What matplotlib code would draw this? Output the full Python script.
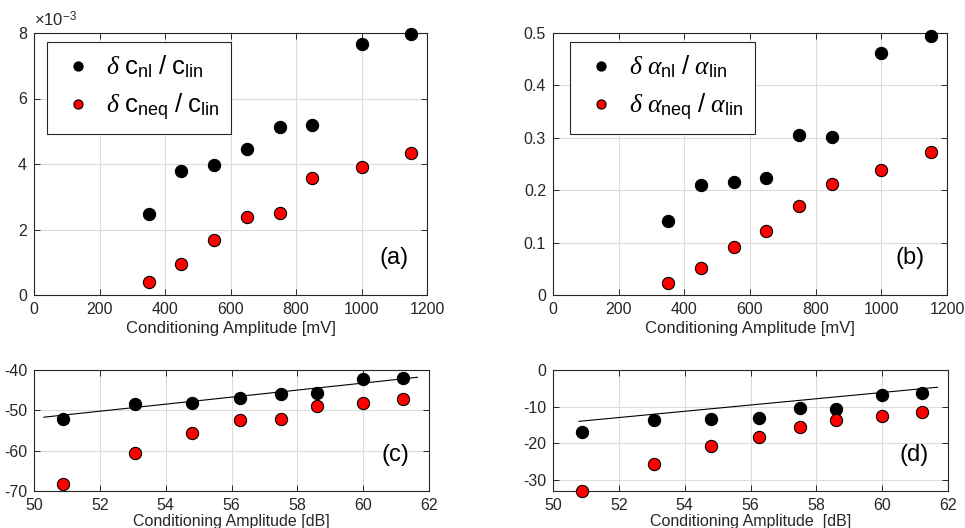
import numpy as np
import matplotlib
matplotlib.use("Agg")
import matplotlib.pyplot as plt

plt.rcParams['font.family'] = ['Liberation Sans', 'DejaVu Sans']
plt.rcParams['mathtext.fontset'] = 'custom'
plt.rcParams['mathtext.rm'] = 'Liberation Sans'
plt.rcParams['mathtext.it'] = 'Liberation Serif:italic'
plt.rcParams['mathtext.bf'] = 'Liberation Sans:bold'
plt.rcParams['axes.unicode_minus'] = False

# ---- data ----
amp_mv = [350, 450, 550, 650, 750, 850, 1000, 1150]
amp_db = [50.88, 53.06, 54.81, 56.26, 57.50, 58.59, 60.00, 61.21]

# (a) values in units of 1e-3
c_nl = [2.47, 3.80, 3.96, 4.46, 5.14, 5.18, 7.65, 7.96]
c_neq = [0.39, 0.95, 1.67, 2.39, 2.51, 3.58, 3.92, 4.33]

# (b)
a_nl = [0.141, 0.209, 0.215, 0.223, 0.306, 0.302, 0.461, 0.494]
a_neq = [0.022, 0.052, 0.091, 0.122, 0.169, 0.212, 0.239, 0.273]

# (c) dB
c_nl_db = [-52.2, -48.4, -48.1, -47.0, -45.9, -45.8, -42.3, -42.0]
c_neq_db = [-68.3, -60.7, -55.7, -52.5, -52.1, -49.0, -48.1, -47.3]
c_line_x = [50.3, 61.65]
c_line_y = [-51.7, -41.8]

# (d) dB
a_nl_db = [-17.0, -13.6, -13.4, -13.0, -10.3, -10.5, -6.8, -6.2]
a_neq_db = [-33.0, -25.6, -20.8, -18.4, -15.5, -13.5, -12.5, -11.4]
d_line_x = [50.79, 61.68]
d_line_y = [-14.0, -4.7]

W, H = 965, 528
fig = plt.figure(figsize=(W / 100, H / 100), dpi=100)

def rect(l, t, r, b):
    return [l / W, 1 - b / H, (r - l) / W, (b - t) / H]

gray = '#262626'
ms = 8.8

def style(ax):
    ax.grid(True, color='#dcdcdc', linewidth=0.8)
    ax.set_axisbelow(True)
    ax.tick_params(direction='in', top=True, right=True, length=4, width=0.7,
                   colors=gray, labelsize=11.5, labelcolor=gray, pad=5)
    for s in ax.spines.values():
        s.set_color(gray)
        s.set_linewidth(0.8)

def pts(ax, x, y, color, label=None):
    ax.plot(x, y, 'o', ms=ms, mfc=color, mec='black', mew=0.8, ls='none',
            label=label, clip_on=False, zorder=3)

def legend(ax, anchor):
    leg = ax.legend(loc='upper left', bbox_to_anchor=anchor, fontsize=18.5,
                    markerscale=0.75, handletextpad=0.35, borderpad=0.45,
                    labelspacing=0.45, borderaxespad=0, fancybox=False,
                    framealpha=1, edgecolor=gray, handlelength=1.5)
    leg.get_frame().set_linewidth(0.8)

# (a)
ax = fig.add_axes(rect(34, 33, 427, 295))
pts(ax, amp_mv, c_nl, 'black', r'$\delta\ \mathrm{c}_{\mathrm{nl}}\ /\ \mathrm{c}_{\mathrm{lin}}$')
pts(ax, amp_mv, c_neq, 'red', r'$\delta\ \mathrm{c}_{\mathrm{neq}}\ /\ \mathrm{c}_{\mathrm{lin}}$')
ax.set_xlim(0, 1200)
ax.set_ylim(0, 8)
ax.set_xticks(range(0, 1201, 200))
ax.set_yticks(range(0, 9, 2))
style(ax)
ax.set_xlabel('Conditioning Amplitude [mV]', fontsize=12, color=gray, labelpad=3)
ax.text(0.0, 1.015, r'$\times\mathrm{10}^{\mathrm{-3}}$', transform=ax.transAxes,
        fontsize=12, color=gray, ha='left', va='bottom')
ax.text(0.915, 0.14, '(a)', transform=ax.transAxes, fontsize=17, ha='center', va='center')
legend(ax, (13 / 393, 1 - 9 / 262))

# (b)
ax = fig.add_axes(rect(553, 33, 947, 295))
pts(ax, amp_mv, a_nl, 'black', r'$\delta\ \alpha_{\mathrm{nl}}\ /\ \alpha_{\mathrm{lin}}$')
pts(ax, amp_mv, a_neq, 'red', r'$\delta\ \alpha_{\mathrm{neq}}\ /\ \alpha_{\mathrm{lin}}$')
ax.set_xlim(0, 1200)
ax.set_ylim(0, 0.5)
ax.set_xticks(range(0, 1201, 200))
ax.set_yticks([0, 0.1, 0.2, 0.3, 0.4, 0.5])
ax.set_yticklabels(['0', '0.1', '0.2', '0.3', '0.4', '0.5'])
style(ax)
ax.set_xlabel('Conditioning Amplitude [mV]', fontsize=12, color=gray, labelpad=3)
ax.text(0.905, 0.14, '(b)', transform=ax.transAxes, fontsize=17, ha='center', va='center')
legend(ax, (17 / 394, 1 - 9 / 262))

# (c)
ax = fig.add_axes(rect(34, 370, 429, 491))
ax.plot(c_line_x, c_line_y, color='black', lw=0.8, zorder=2)
pts(ax, amp_db, c_nl_db, 'black')
pts(ax, amp_db, c_neq_db, 'red')
ax.set_xlim(50, 62)
ax.set_ylim(-70, -40)
ax.set_xticks(range(50, 63, 2))
ax.set_yticks([-70, -60, -50, -40])
style(ax)
ax.set_xlabel('Conditioning Amplitude [dB]', fontsize=11.5, color=gray, labelpad=1)
ax.text(0.915, 0.3, '(c)', transform=ax.transAxes, fontsize=17, ha='center', va='center')

# (d)
ax = fig.add_axes(rect(553, 370, 948, 491))
ax.plot(d_line_x, d_line_y, color='black', lw=0.8, zorder=2)
pts(ax, amp_db, a_nl_db, 'black')
pts(ax, amp_db, a_neq_db, 'red')
ax.set_xlim(50, 62)
ax.set_ylim(-33, 0)
ax.set_xticks(range(50, 63, 2))
ax.set_yticks([-30, -20, -10, 0])
style(ax)
ax.set_xlabel('Conditioning Amplitude  [dB]', fontsize=11.5, color=gray, labelpad=1)
ax.text(0.915, 0.3, '(d)', transform=ax.transAxes, fontsize=17, ha='center', va='center')

fig.savefig('out.png', dpi=100)
